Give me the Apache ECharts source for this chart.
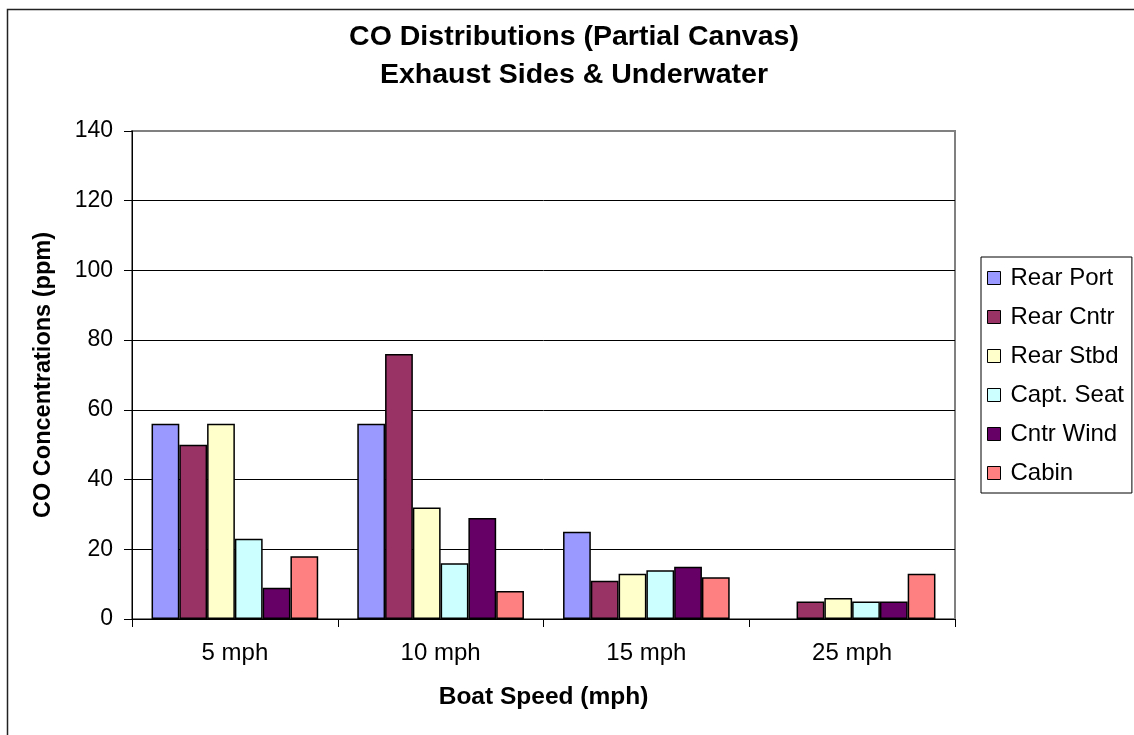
<!DOCTYPE html>
<html>
<head>
<meta charset="utf-8">
<title>CO Distributions (Partial Canvas)</title>
<script src="https://cdn.jsdelivr.net/npm/echarts@6/dist/echarts.min.js"></script>
<style>
  html, body { margin: 0; padding: 0; background: #ffffff; }
  #chart { width: 1134px; height: 735px; }
</style>
</head>
<body>
<div id="chart"></div>
<script>
// Boat speeds along the x axis
const categories = ['5 mph', '10 mph', '15 mph', '25 mph'];

// Measurement locations (one bar series each)
const seriesNames = ['Rear Port', 'Rear Cntr', 'Rear Stbd', 'Capt. Seat', 'Cntr Wind', 'Cabin'];

// CO concentrations in ppm per location and speed
const rearPort  = [56, 56, 25, null];
const rearCntr  = [50, 76, 11, 5];
const rearStbd  = [56, 32, 13, 6];
const captSeat  = [23, 16, 14, 5];
const cntrWind  = [9, 29, 15, 5];
const cabin     = [18, 8, 12, 13];

// Y axis ticks
const yTicks = [0, 20, 40, 60, 80, 100, 120, 140];

const seriesValues = [rearPort, rearCntr, rearStbd, captSeat, cntrWind, cabin];
const seriesColors = ['#9999FF', '#993366', '#FFFFCC', '#CCFFFF', '#660066', '#FF8080'];

const FONT = "'Liberation Sans', Arial, sans-serif";

const chart = echarts.init(document.getElementById('chart'), null, { renderer: 'canvas' });

const option = {
  backgroundColor: '#ffffff',
  animation: false,
  textStyle: { fontFamily: FONT, color: '#000' },
  title: {
    text: 'CO Distributions (Partial Canvas)\nExhaust Sides & Underwater',
    left: 574,
    textAlign: 'center',
    top: 18,
    padding: 0,
    textStyle: {
      fontFamily: FONT,
      fontSize: 28.5,
      fontWeight: 'bold',
      color: '#000',
      lineHeight: 38
    }
  },
  graphic: [{
    type: 'rect',
    shape: { x: 7.5, y: 9.5, width: 1200, height: 800 },
    style: { fill: 'none', stroke: '#222', lineWidth: 1.5 },
    silent: true,
    z: 100
  }],
  legend: {
    orient: 'vertical',
    left: 981,
    top: 257,
    padding: [9, 8, 8, 6],
    itemGap: 15,
    itemWidth: 13,
    itemHeight: 13,
    borderColor: '#000',
    borderWidth: 1,
    icon: 'rect',
    itemStyle: { borderColor: '#000', borderWidth: 1 },
    textStyle: { fontFamily: FONT, fontSize: 24, color: '#000', padding: [0, 0, 0, 5] },
    data: seriesNames
  },
  grid: {
    left: 132,
    right: 179,
    top: 131,
    bottom: 116,
    show: true,
    borderColor: '#808080',
    borderWidth: 2,
    backgroundColor: '#ffffff'
  },
  xAxis: {
    type: 'category',
    data: categories,
    boundaryGap: true,
    name: 'Boat Speed (mph)',
    nameLocation: 'middle',
    nameGap: 66,
    nameTextStyle: { fontFamily: FONT, fontSize: 24.5, fontWeight: 'bold', color: '#000' },
    axisLine: { lineStyle: { color: '#000', width: 1 } },
    axisTick: { show: true, alignWithLabel: false, length: 8, lineStyle: { color: '#000' } },
    axisLabel: { fontFamily: FONT, fontSize: 24, color: '#000', margin: 22 },
    splitLine: { show: false }
  },
  yAxis: {
    type: 'value',
    min: yTicks[0],
    max: yTicks[yTicks.length - 1],
    interval: yTicks[1] - yTicks[0],
    name: 'CO Concentrations (ppm)',
    nameLocation: 'middle',
    nameGap: 76,
    nameTextStyle: { fontFamily: FONT, fontSize: 23.5, fontWeight: 'bold', color: '#000' },
    axisLine: { show: true, lineStyle: { color: '#000', width: 1 } },
    axisTick: { show: true, inside: false, length: 8, lineStyle: { color: '#000' } },
    axisLabel: { fontFamily: FONT, fontSize: 23, color: '#000', margin: 19 },
    splitLine: {
      show: true,
      lineStyle: {
        color: ['#000', '#000', '#000', '#000', '#000', '#000', '#000', '#808080'],
        width: 1
      }
    }
  },
  series: seriesNames.map((name, i) => ({
    name: name,
    type: 'bar',
    data: seriesValues[i],
    barGap: '0%',
    barCategoryGap: '19%',
    itemStyle: {
      color: seriesColors[i],
      borderColor: '#000',
      borderWidth: 1.5
    }
  }))
};

chart.setOption(option);
</script>
</body>
</html>
